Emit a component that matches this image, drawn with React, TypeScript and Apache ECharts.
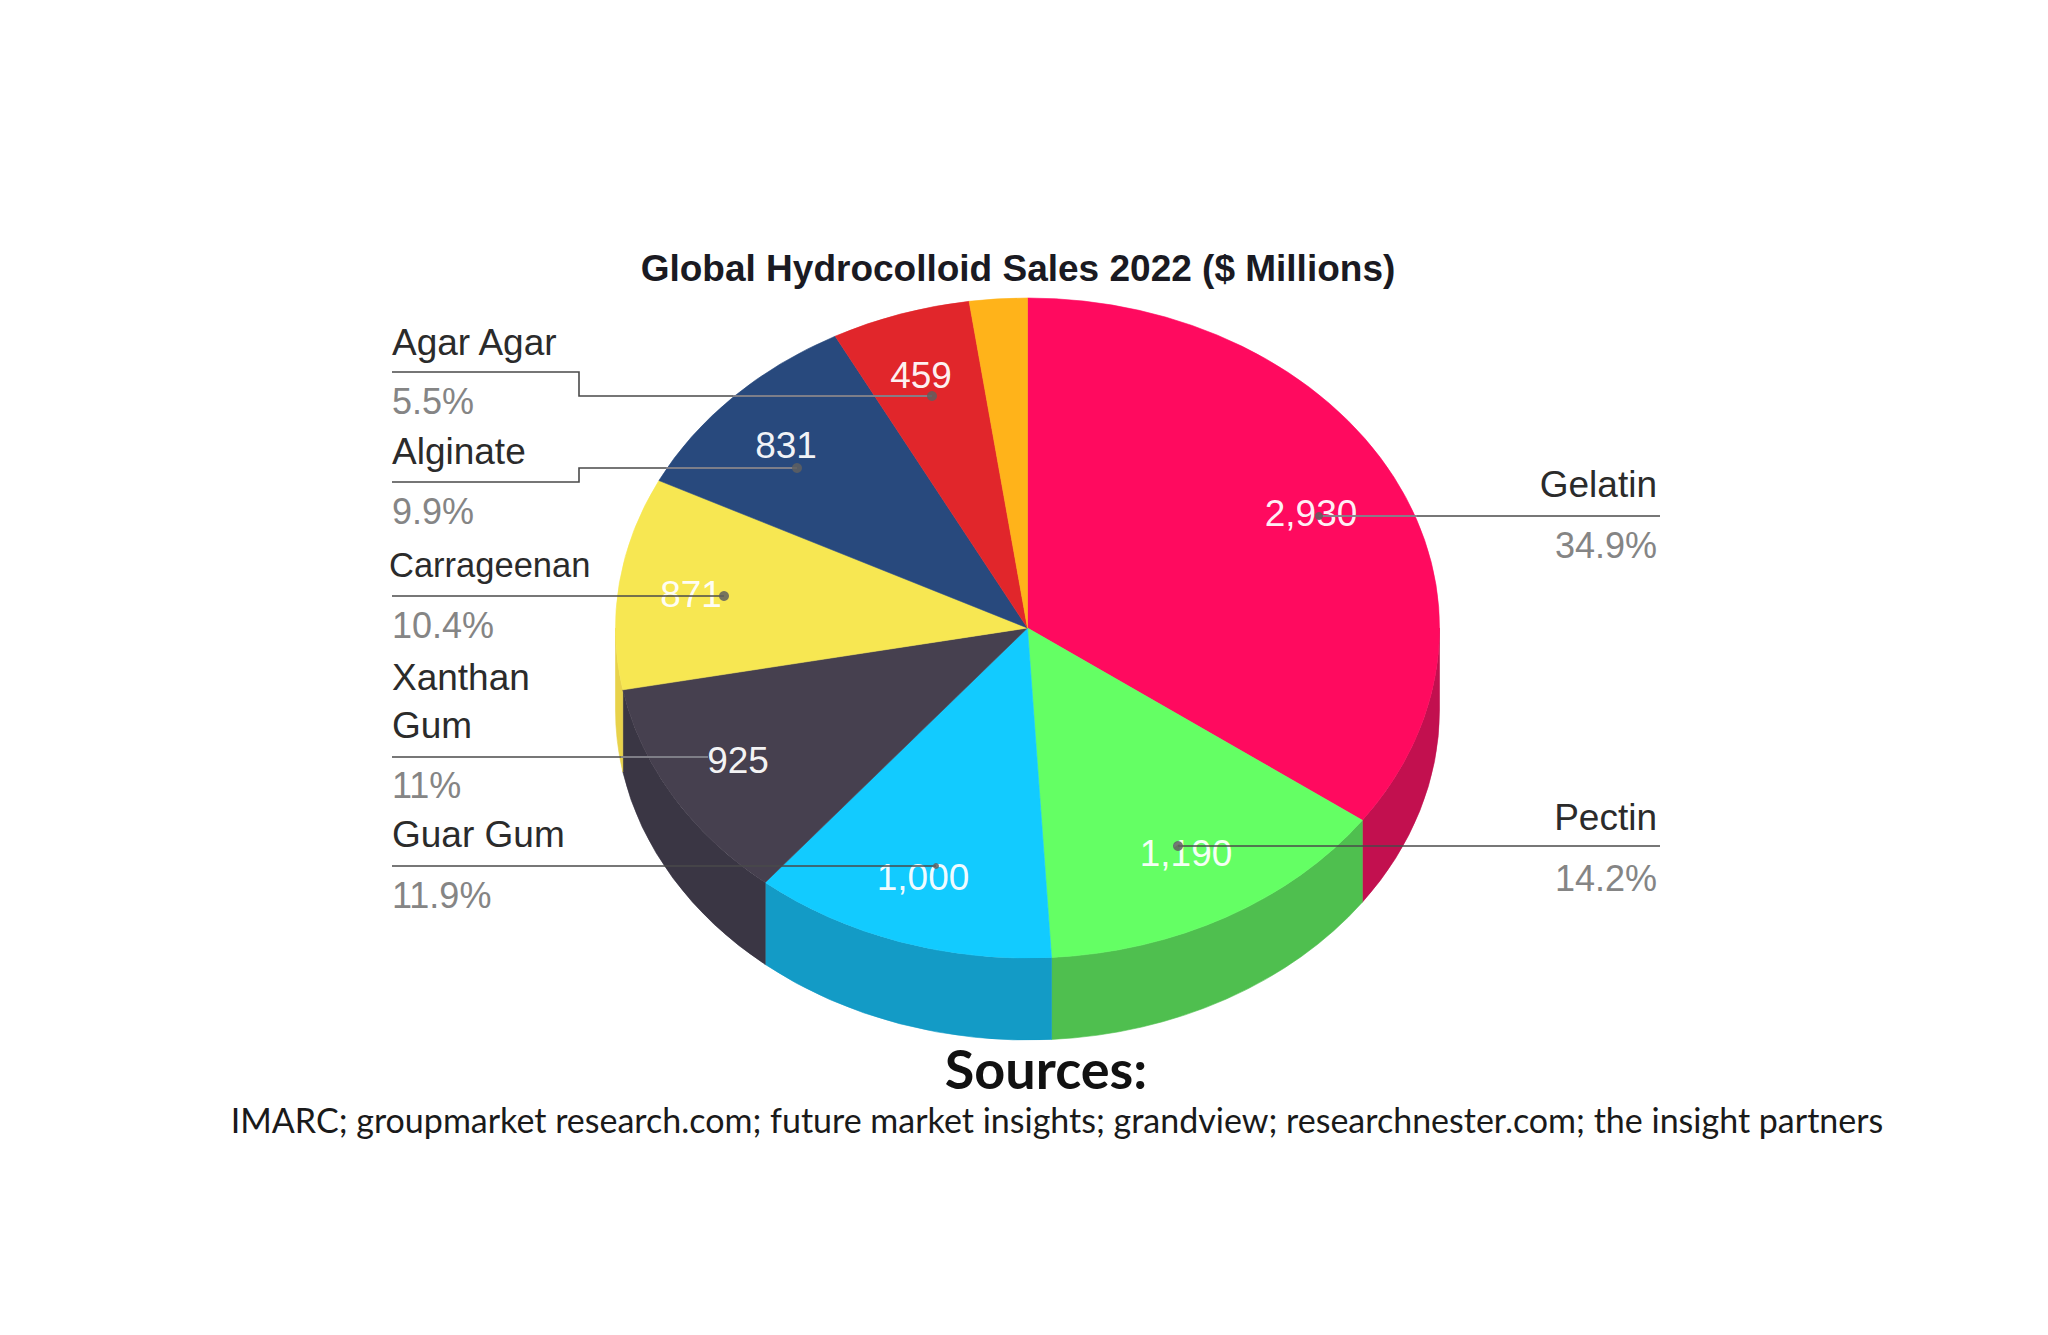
import React, { useEffect, useRef } from "react";
import * as echarts from "echarts";

// ---- data ----
const categories = ["Gelatin", "Pectin", "Guar Gum", "Xanthan Gum", "Carrageenan", "Alginate", "Agar Agar", "Other"];
const salesValues = [2930, 1190, 1000, 925, 871, 831, 459, 190];
const valueLabels = ["2,930", "1,190", "1,000", "925", "871", "831", "459", ""];
const percentLabels = ["34.9%", "14.2%", "11.9%", "11%", "10.4%", "9.9%", "5.5%", ""];
const titleText = "Global Hydrocolloid Sales 2022 ($ Millions)";
const sourcesHeading = "Sources:";
const sourcesText = "IMARC; groupmarket research.com; future market insights; grandview; researchnester.com; the insight partners";

// ---- styles ----
const topColors = ["#FF0A5F", "#64FF64", "#12CBFF", "#46404F", "#F7E752", "#28497D", "#E1262B", "#FFB31A"];
const wallColors = ["#C2104F", "#4FBF4F", "#139BC6", "#3A3644", "#E8D24A", "#28497D", "#E1262B", "#FFB31A"];

// ---- layout ----
const CX = 1027.5, CY = 628, RX = 412, RY = 330, DEPTH = 82;
const SANS = '"Liberation Sans", Arial, sans-serif';

type Note = {
  i: number; // index into the data arrays
  nameLines: { text: string; x: number; y: number; size?: number }[];
  pct: [number, number];
  value: [number, number];
  align: "left" | "right";
  path: number[][];
  inner?: number[][];
  dot?: number;
};

const notes: Note[] = [
  { i: 6, nameLines: [{ text: "Agar Agar", x: 392, y: 342 }], pct: [392, 401], value: [921, 375], align: "left",
    path: [[392, 372], [579, 372], [579, 396], [932, 396]], inner: [[733, 396], [932, 396]], dot: 5 },
  { i: 5, nameLines: [{ text: "Alginate", x: 392, y: 451 }], pct: [392, 511], value: [786, 445], align: "left",
    path: [[392, 482], [579, 482], [579, 468], [797, 468]], inner: [[666, 468], [797, 468]], dot: 5 },
  { i: 4, nameLines: [{ text: "Carrageenan", x: 389, y: 565, size: 34.5 }], pct: [392, 625], value: [691, 594], align: "left",
    path: [[392, 596], [724, 596]], dot: 5 },
  { i: 3, nameLines: [{ text: "Xanthan", x: 392, y: 677 }, { text: "Gum", x: 392, y: 725 }], pct: [392, 785], value: [738, 760], align: "left",
    path: [[392, 757], [708, 757]], inner: [[621, 757], [708, 757]] },
  { i: 2, nameLines: [{ text: "Guar Gum", x: 392, y: 834 }], pct: [392, 895], value: [923, 877], align: "left",
    path: [[392, 866], [936, 866]], dot: 3 },
  { i: 0, nameLines: [{ text: "Gelatin", x: 1657, y: 484 }], pct: [1657, 545], value: [1311, 513], align: "right",
    path: [[1660, 516], [1319, 516]], inner: [[1417, 516], [1319, 516]], dot: 4 },
  { i: 1, nameLines: [{ text: "Pectin", x: 1657, y: 817 }], pct: [1657, 878], value: [1186, 853], align: "right",
    path: [[1660, 846], [1178, 846]], dot: 5 },
];

const total = salesValues.reduce((a, b) => a + b, 0);
let running = 0;
const sliceData = salesValues.map((v, i) => {
  const start = running;
  running += v / total;
  return { name: categories[i], value: [start, running, v] };
});

const pt = (turn: number, dy = 0) => {
  const a = turn * 2 * Math.PI;
  return [CX + RX * Math.sin(a), CY - RY * Math.cos(a) + dy];
};

function renderTop(params: any, api: any) {
  const t0 = api.value(0), t1 = api.value(1);
  const a = pt(t0), b = pt(t1);
  const large = t1 - t0 > 0.5 ? 1 : 0;
  const color = topColors[params.dataIndex];
  return {
    type: "path",
    shape: { pathData: `M${CX} ${CY}L${a[0]} ${a[1]}A${RX} ${RY} 0 ${large} 1 ${b[0]} ${b[1]}Z` },
    style: { fill: color, stroke: color, lineWidth: 0.6 },
  };
}

function renderWall(params: any, api: any) {
  const t0 = Math.max(api.value(0), 0.25), t1 = Math.min(api.value(1), 0.75);
  if (t1 <= t0) return undefined;
  const a = pt(t0), b = pt(t1), c = pt(t1, DEPTH), d = pt(t0, DEPTH);
  const color = wallColors[params.dataIndex];
  return {
    type: "path",
    shape: {
      pathData: `M${a[0]} ${a[1]}A${RX} ${RY} 0 0 1 ${b[0]} ${b[1]}L${c[0]} ${c[1]}A${RX} ${RY} 0 0 0 ${d[0]} ${d[1]}Z`,
    },
    style: { fill: color, stroke: color, lineWidth: 0.6 },
  };
}

function buildGraphics() {
  const els: any[] = [];
  notes.forEach((n) => {
    els.push({
      type: "text", x: n.value[0], y: n.value[1], z: 10,
      style: { text: valueLabels[n.i], font: `37px ${SANS}`, fill: "rgba(255,255,255,0.95)", align: "center", verticalAlign: "middle" },
    });
    n.nameLines.forEach((l) =>
      els.push({
        type: "text", x: l.x, y: l.y, z: 10,
        style: { text: l.text, font: `${l.size ?? 37}px ${SANS}`, fill: "#2b2b2b", align: n.align, verticalAlign: "middle" },
      })
    );
    els.push({
      type: "text", x: n.pct[0], y: n.pct[1], z: 10,
      style: { text: percentLabels[n.i], font: `36px ${SANS}`, fill: "#858585", align: n.align, verticalAlign: "middle" },
    });
    els.push({
      type: "polyline", z: 11, shape: { points: n.path },
      style: { stroke: "#4a4a4a", lineWidth: 1.6, fill: "none" },
    });
    if (n.inner) {
      els.push({
        type: "polyline", z: 12, shape: { points: n.inner },
        style: { stroke: "rgba(140,140,150,0.8)", lineWidth: 1.8, fill: "none" },
      });
    }
    if (n.dot) {
      const end = n.path[n.path.length - 1];
      els.push({
        type: "circle", z: 13, shape: { cx: end[0], cy: end[1], r: n.dot },
        style: { fill: "rgba(95,95,95,0.85)" },
      });
    }
  });
  els.push({
    type: "text", x: 1046, y: 1068, z: 10,
    style: { text: sourcesHeading, font: 'bold 54px Lato, sans-serif', fill: "#111", align: "center", verticalAlign: "middle" },
  });
  els.push({
    type: "text", x: 1057, y: 1119, z: 10,
    style: { text: sourcesText, font: '34px Lato, sans-serif', fill: "#1a1a1a", align: "center", verticalAlign: "middle" },
  });
  return els;
}

export default function App() {
  const ref = useRef<HTMLDivElement>(null);
  useEffect(() => {
    const chart = echarts.init(ref.current!, null, { renderer: "svg" });
    chart.setOption({
      animation: false,
      backgroundColor: "#ffffff",
      title: {
        text: titleText,
        left: 1013,
        top: 245,
        textAlign: "center",
        textStyle: { fontFamily: SANS, fontWeight: "bold", fontSize: 37, color: "#1a1a22" },
      },
      series: [
        { type: "custom", name: "walls", coordinateSystem: "none", renderItem: renderWall, data: sliceData, z: 1, silent: true },
        { type: "custom", name: "tops", coordinateSystem: "none", renderItem: renderTop, data: sliceData, z: 2, silent: true },
      ],
      graphic: { elements: buildGraphics() },
    });
    return () => chart.dispose();
  }, []);
  return <div ref={ref} style={{ position: "absolute", left: 0, top: 0, width: 2048, height: 1335 }} />;
}
